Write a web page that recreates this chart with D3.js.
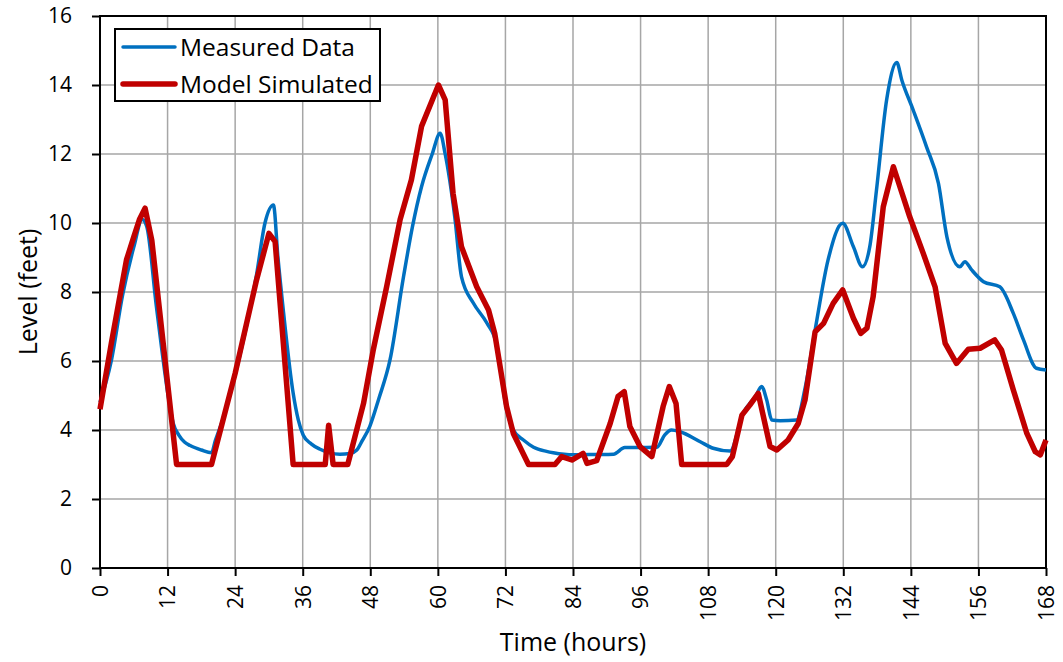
<!DOCTYPE html>
<html>
<head>
<meta charset="utf-8">
<script src="https://cdn.jsdelivr.net/npm/d3@7"></script>
<style>
  body { margin: 0; background: #fff; }
  text { font-family: "Open Sans", "Noto Sans", sans-serif; fill: #000; }
</style>
</head>
<body>
<div id="chart"></div>
<script>
// measured data (hours, feet)
const measuredT = [0, 2, 4, 6, 7.5, 8.3, 10, 11, 12, 13, 14, 15, 16, 18, 19.8, 20.5, 22, 24, 26, 27.8, 29.3, 30.8, 31.6, 32.6, 34.3, 35.2, 36.1, 37.5, 39, 42.6, 44.4, 45.6, 46.6, 47.9, 49.5, 51.5, 53.9, 55.5, 57.1, 59, 60.4, 61.3, 63, 64.2, 66.3, 68.7, 70.4, 72.2, 73.4, 75.2, 77, 79.3, 80.5, 84.1, 88, 91.2, 93.2, 98.9, 100.3, 101.5, 103, 106.6, 108.9, 111.9, 114.2, 116.5, 117.5, 118.4, 119.3, 120.8, 123.7, 125.2, 127, 129.3, 131.9, 133.8, 135.4, 136.7, 137.9, 139.7, 141.5, 142.4, 144.4, 146.8, 148.9, 150.4, 152.7, 153.6, 154.8, 156.9, 159.8, 162.2, 164, 166.3, 168];
const measuredV = [4.8, 6.0, 7.9, 9.3, 10.1, 9.9, 7.6, 6.3, 5.1, 4.2, 3.85, 3.65, 3.55, 3.42, 3.34, 3.7, 4.4, 5.6, 7.0, 8.5, 10.0, 10.52, 9.0, 7.4, 5.07, 4.3, 3.85, 3.6, 3.45, 3.3, 3.32, 3.42, 3.7, 4.1, 4.9, 6.03, 8.44, 9.9, 11.05, 12.0, 12.6, 12.0, 10.18, 8.44, 7.68, 7.1, 6.5, 4.6, 4.0, 3.71, 3.5, 3.38, 3.34, 3.28, 3.29, 3.3, 3.49, 3.5, 3.86, 4.0, 3.95, 3.66, 3.47, 3.39, 4.48, 5.0, 5.26, 4.87, 4.29, 4.27, 4.29, 5.2, 6.9, 8.93, 9.99, 9.31, 8.73, 9.31, 10.96, 13.57, 14.65, 14.14, 13.28, 12.2, 11.15, 9.6, 8.73, 8.88, 8.64, 8.3, 8.15, 7.38, 6.61, 5.79, 5.74];

// model simulated (hours, feet)
const modelT = [0, 2, 4.7, 6, 7, 8, 9.2, 13.6, 19.8, 24, 27.8, 30, 31.1, 34.3, 40, 40.6, 41.4, 44, 46.8, 48.5, 50.9, 53.3, 55.3, 57.1, 60.1, 61.3, 62.7, 64.2, 66.9, 69, 70.1, 72.2, 73.4, 76.1, 80.8, 82, 83.8, 85.8, 86.5, 88.2, 90.6, 92, 93.1, 94.1, 95.9, 98, 100, 101.1, 102.3, 103.3, 111.3, 112.3, 114, 115.4, 116.9, 119, 120.2, 122.2, 124, 125.2, 127, 128.5, 130.2, 131.9, 133.8, 135.1, 136.2, 137.3, 139.1, 140.9, 143.8, 146.2, 148.3, 150.1, 152.1, 154.2, 156.3, 158.9, 160.1, 162.2, 164.6, 166.1, 167, 168];
const modelV = [4.6, 6.5, 8.93, 9.6, 10.1, 10.43, 9.5, 3.0, 3.0, 5.64, 8.35, 9.7, 9.46, 3.0, 3.0, 4.14, 3.0, 3.0, 4.77, 6.3, 8.15, 10.1, 11.25, 12.8, 14.0, 13.57, 10.86, 9.31, 8.15, 7.48, 6.8, 4.68, 3.9, 3.0, 3.0, 3.23, 3.13, 3.32, 3.03, 3.11, 4.19, 4.97, 5.11, 4.1, 3.52, 3.23, 4.68, 5.26, 4.77, 3.0, 3.0, 3.23, 4.43, 4.72, 5.06, 3.52, 3.42, 3.71, 4.19, 4.87, 6.85, 7.09, 7.67, 8.06, 7.24, 6.8, 6.95, 7.86, 10.47, 11.63, 10.18, 9.12, 8.15, 6.51, 5.93, 6.34, 6.37, 6.61, 6.32, 5.16, 3.9, 3.37, 3.28, 3.71];

const xTicks = [0, 12, 24, 36, 48, 60, 72, 84, 96, 108, 120, 132, 144, 156, 168];
const yTicks = [0, 2, 4, 6, 8, 10, 12, 14, 16];

const width = 1063, height = 662;
const margin = {top: 16, right: 17, bottom: 94, left: 100};

const svg = d3.select("#chart").append("svg")
    .attr("width", width)
    .attr("height", height);

const x = d3.scaleLinear().domain([0, 168]).range([margin.left, width - margin.right]);
const y = d3.scaleLinear().domain([0, 16]).range([height - margin.bottom, margin.top]);

// gridlines
svg.append("g")
    .selectAll("line.vg")
    .data(xTicks)
    .enter().append("line")
    .attr("x1", d => x(d)).attr("x2", d => x(d))
    .attr("y1", y(0)).attr("y2", y(16))
    .attr("stroke", "#a6a6a6").attr("stroke-width", 1.5);
svg.append("g")
    .selectAll("line.hg")
    .data(yTicks)
    .enter().append("line")
    .attr("y1", d => y(d)).attr("y2", d => y(d))
    .attr("x1", x(0)).attr("x2", x(168))
    .attr("stroke", "#a6a6a6").attr("stroke-width", 1.5);

// axes
let xAxis = d3.axisBottom(x).tickValues(xTicks).tickSize(8).tickSizeOuter(0).tickFormat(d3.format("d"));
let gx = svg.append("g")
    .attr("transform", "translate(0," + y(0) + ")")
    .call(xAxis);
gx.select(".domain").remove();
gx.selectAll(".tick line").attr("stroke", "#000").attr("stroke-width", 2);
gx.selectAll(".tick text")
    .attr("font-size", 21)
    .attr("font-family", "Open Sans")
    .attr("transform", "rotate(-90)")
    .attr("text-anchor", "end")
    .attr("x", -17)
    .attr("y", 0)
    .attr("dy", "0.35em");

let yAxis = d3.axisLeft(y).tickValues(yTicks).tickSize(8).tickSizeOuter(0);
let gy = svg.append("g")
    .attr("transform", "translate(" + x(0) + ",0)")
    .call(yAxis);
gy.select(".domain").remove();
gy.selectAll(".tick line").attr("stroke", "#000").attr("stroke-width", 2);
gy.selectAll(".tick text")
    .attr("font-size", 21)
    .attr("font-family", "Open Sans")
    .attr("x", -28);

// plot border
svg.append("rect")
    .attr("x", x(0)).attr("y", y(16))
    .attr("width", x(168) - x(0)).attr("height", y(0) - y(16))
    .attr("fill", "none").attr("stroke", "#000").attr("stroke-width", 2);

// series
const measured = measuredT.map((t, i) => [t, measuredV[i]]);
const model = modelT.map((t, i) => [t, modelV[i]]);
const smooth = d3.line().x(d => x(d[0])).y(d => y(d[1])).curve(d3.curveMonotoneX);
const line = d3.line().x(d => x(d[0])).y(d => y(d[1]));

svg.append("path")
    .datum(measured)
    .attr("d", smooth)
    .attr("fill", "none")
    .attr("stroke", "#0070c0")
    .attr("stroke-width", 3.5)
    .attr("stroke-linejoin", "round");

svg.append("path")
    .datum(model)
    .attr("d", line)
    .attr("fill", "none")
    .attr("stroke", "#c00000")
    .attr("stroke-width", 5.5)
    .attr("stroke-linejoin", "round");

// axis titles
svg.append("text")
    .attr("x", (x(0) + x(168)) / 2)
    .attr("y", 651)
    .attr("text-anchor", "middle")
    .attr("font-size", 25)
    .text("Time (hours)");

svg.append("text")
    .attr("transform", "translate(37," + ((y(0) + y(16)) / 2) + ") rotate(-90)")
    .attr("text-anchor", "middle")
    .attr("font-size", 25)
    .text("Level (feet)");

// legend
let legend = svg.append("g");
legend.append("rect")
    .attr("x", 115).attr("y", 29)
    .attr("width", 265).attr("height", 72)
    .attr("fill", "#fff").attr("stroke", "#000").attr("stroke-width", 2);
const legendItems = [
    {name: "Measured Data", color: "#0070c0", w: 3.5},
    {name: "Model Simulated", color: "#c00000", w: 5.5}
];
legendItems.forEach((d, i) => {
    let yy = 47 + i * 37;
    legend.append("line")
        .attr("x1", 123).attr("x2", 175)
        .attr("y1", yy).attr("y2", yy)
        .attr("stroke", d.color).attr("stroke-width", d.w)
        .attr("stroke-linecap", "round");
    legend.append("text")
        .attr("x", 180).attr("y", yy)
        .attr("dy", "0.35em")
        .attr("font-size", 24.5)
        .text(d.name);
});
</script>
</body>
</html>
